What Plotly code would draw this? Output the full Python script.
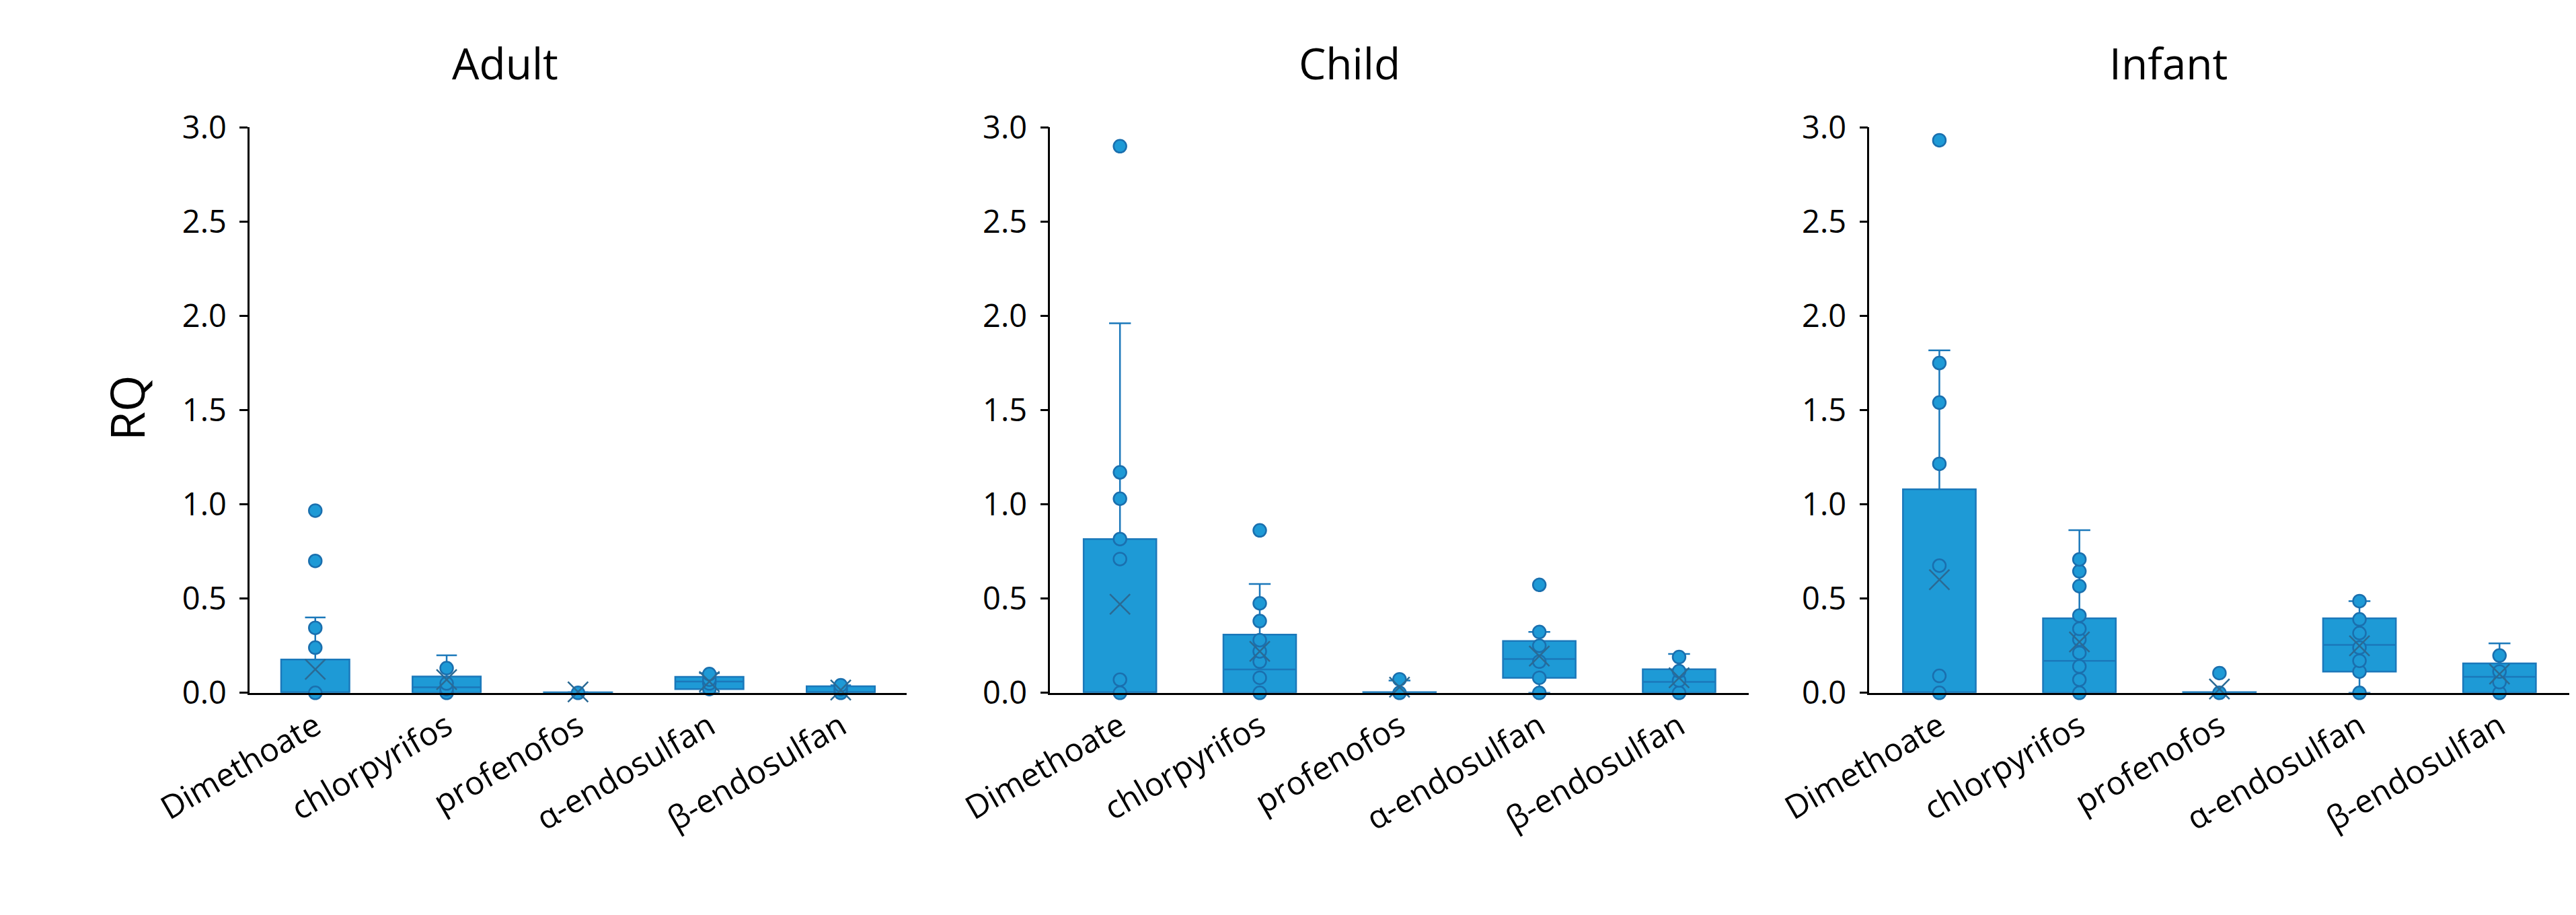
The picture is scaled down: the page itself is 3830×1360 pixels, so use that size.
import plotly.graph_objects as go

# ---------------- data ----------------
categories = ["Dimethoate", "chlorpyrifos", "profenofos", "α-endosulfan", "β-endosulfan"]
panels = ["Adult", "Child", "Infant"]
y_tick_vals = [0.0, 0.5, 1.0, 1.5, 2.0, 2.5, 3.0]

# Adult
adult_q1 = [0.0, 0.0, 0.0, 0.02, 0.0]
adult_median = [0.0, 0.03, 0.0, 0.06, 0.005]
adult_q3 = [0.177, 0.087, 0.003, 0.085, 0.035]
adult_low = [0.0, 0.0, 0.0, 0.0, 0.0]
adult_high = [0.40, 0.199, 0.004, 0.105, 0.04]
adult_mean = [0.125, 0.07, 0.005, 0.06, 0.015]
adult_points = [
    [0.0, 0.24, 0.345, 0.70, 0.967],
    [0.0, 0.02, 0.05, 0.131],
    [0.0],
    [0.02, 0.05, 0.07, 0.10],
    [0.0, 0.02, 0.04],
]

# Child
child_q1 = [0.0, 0.0, 0.0, 0.08, 0.0]
child_median = [0.0, 0.124, 0.0, 0.18, 0.058]
child_q3 = [0.816, 0.309, 0.004, 0.275, 0.125]
child_low = [0.0, 0.0, 0.0, 0.0, 0.0]
child_high = [1.961, 0.578, 0.065, 0.323, 0.206]
child_mean = [0.47, 0.22, 0.03, 0.195, 0.08]
child_points = [
    [0.0, 0.07, 0.71, 0.816, 1.03, 1.17, 2.90],
    [0.0, 0.08, 0.166, 0.22, 0.28, 0.381, 0.475, 0.862],
    [0.0, 0.072],
    [0.0, 0.08, 0.166, 0.25, 0.323, 0.573],
    [0.0, 0.066, 0.115, 0.19],
]

# Infant
infant_q1 = [0.0, 0.0, 0.0, 0.113, 0.0]
infant_median = [0.0, 0.17, 0.0, 0.255, 0.085]
infant_q3 = [1.08, 0.396, 0.004, 0.396, 0.156]
infant_low = [0.0, 0.0, 0.0, 0.0, 0.0]
infant_high = [1.817, 0.863, 0.004, 0.487, 0.263]
infant_mean = [0.60, 0.27, 0.02, 0.25, 0.10]
infant_points = [
    [0.0, 0.09, 0.675, 1.215, 1.54, 1.75, 2.932],
    [0.0, 0.07, 0.14, 0.212, 0.283, 0.34, 0.41, 0.566, 0.645, 0.708],
    [0.0, 0.105],
    [0.0, 0.113, 0.17, 0.24, 0.317, 0.39, 0.487],
    [0.0, 0.057, 0.113, 0.198],
]

panel_data = [
    (adult_q1, adult_median, adult_q3, adult_low, adult_high, adult_mean, adult_points),
    (child_q1, child_median, child_q3, child_low, child_high, child_mean, child_points),
    (infant_q1, infant_median, infant_q3, infant_low, infant_high, infant_mean, infant_points),
]

# ---------------- style ----------------
W, H = 3830, 1360
FONT = "Segoe UI, Open Sans, Noto Sans, sans-serif"
BOX_FILL = "#1E9AD6"
BOX_LINE = "#1B78BA"
DOT_LINE = "#1A6FAE"
MEAN_COLOR = "#2B6A94"

x_domains = [(235 / W, 1250 / W), (1472 / W, 2552 / W), (2738 / W, 3820 / W)]
title_x = [630, 1935, 3200]
y_domain = ((H - 1045) / H, (H - 163) / H)

fig = go.Figure()

for i, (q1, med, q3, lo, hi, mean, pts) in enumerate(panel_data):
    xa = "x" if i == 0 else f"x{i+1}"
    ya = "y" if i == 0 else f"y{i+1}"
    fig.add_trace(go.Box(
        x=categories, q1=q1, median=med, q3=q3,
        lowerfence=lo, upperfence=hi,
        boxpoints=False, width=0.52, whiskerwidth=0.3,
        fillcolor=BOX_FILL, line=dict(color=BOX_LINE, width=2.5),
        xaxis=xa, yaxis=ya, showlegend=False, hoverinfo="skip",
    ))
    px, py = [], []
    for c, vals in zip(categories, pts):
        for v in vals:
            px.append(c)
            py.append(v)
    fig.add_trace(go.Scatter(
        x=px, y=py, mode="markers", cliponaxis=False,
        marker=dict(symbol="circle", size=19, color=BOX_FILL,
                    line=dict(color=DOT_LINE, width=2.5)),
        xaxis=xa, yaxis=ya, showlegend=False, hoverinfo="skip",
    ))
    fig.add_trace(go.Scatter(
        x=categories, y=mean, mode="markers", cliponaxis=False,
        marker=dict(symbol="x-thin-open", size=30, color=MEAN_COLOR,
                    line=dict(color=MEAN_COLOR, width=2.5)),
        xaxis=xa, yaxis=ya, showlegend=False, hoverinfo="skip",
    ))

layout = dict(
    width=W, height=H,
    margin=dict(l=0, r=0, t=0, b=0),
    paper_bgcolor="white", plot_bgcolor="white",
    font=dict(family=FONT, color="#000000"),
    annotations=[],
)

for i, name in enumerate(panels):
    sfx = "" if i == 0 else str(i + 1)
    layout[f"xaxis{sfx}"] = dict(
        domain=list(x_domains[i]), anchor=f"y{sfx}",
        type="category", categoryorder="array", categoryarray=categories,
        range=[-0.5, 4.5],
        showline=True, linecolor="#000000", linewidth=3,
        ticks="", showgrid=False, zeroline=False,
        tickangle=-30, tickfont=dict(size=48, family=FONT, color="#000000"),
    )
    layout[f"yaxis{sfx}"] = dict(
        domain=list(y_domain), anchor=f"x{sfx}",
        range=[0, 3], tickvals=y_tick_vals, tickformat=".1f",
        showline=True, linecolor="#000000", linewidth=2.5,
        ticks="outside", ticklen=12, tickwidth=2.5, tickcolor="#000000",
        showgrid=False, zeroline=False,
        tickfont=dict(size=47, family=FONT, color="#000000"),
        ticklabelstandoff=10,
    )
    layout["annotations"].append(dict(
        text=name, x=title_x[i] / W, y=1 - 62 / H, xref="paper", yref="paper",
        xanchor="center", yanchor="middle", showarrow=False,
        font=dict(size=64, family=FONT, color="#000000"),
    ))

layout["annotations"].append(dict(
    text="RQ", x=44 / W, y=1 - 600 / H, xref="paper", yref="paper",
    xanchor="center", yanchor="middle", showarrow=False, textangle=-90,
    font=dict(size=70, family=FONT, color="#000000"),
))

fig.update_layout(**layout)
fig.write_html("out.html", config={"displayModeBar": False},
               post_script="document.body.style.margin='0';")
